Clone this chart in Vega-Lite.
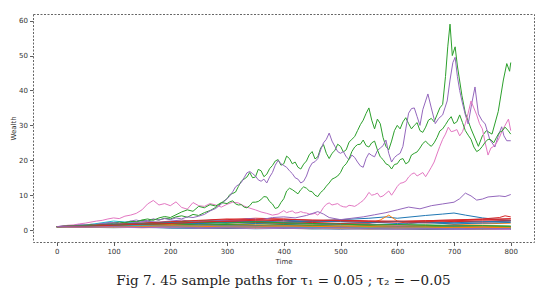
{
"$schema": "https://vega.github.io/schema/vega-lite/v6.json",
"width": 501, "height": 228,
"autosize": "none",
"padding": {"left": 33, "top": 14, "right": 18, "bottom": 56},
"background": "white",
"title": {"text": "Fig 7. 45 sample paths for τ₁ = 0.05 ; τ₂ = −0.05", "orient": "bottom", "anchor": "middle", "font": "DejaVu Serif", "fontSize": 13.5, "fontWeight": "normal", "color": "#222", "offset": 9},
"config": {
 "view": {"stroke": "#666", "strokeDash": [2, 1.5], "strokeWidth": 1},
 "axis": {"domain": false, "grid": false, "labelFont": "DejaVu Sans", "labelFontSize": 7, "labelColor": "#333", "tickColor": "#333", "tickSize": 3.5, "tickWidth": 0.8, "labelPadding": 2, "titleFont": "DejaVu Sans", "titleFontSize": 7, "titleFontWeight": "normal", "titleColor": "#333", "titlePadding": 3}
},
"data": {"values": [
{"p":0,"t":0,"w":1},{"p":0,"t":50,"w":1.3},{"p":0,"t":100,"w":1.8},{"p":0,"t":150,"w":2.0},{"p":0,"t":200,"w":2.2},{"p":0,"t":250,"w":2.4},{"p":0,"t":300,"w":2.0},{"p":0,"t":350,"w":2.5},{"p":0,"t":400,"w":2.8},{"p":0,"t":450,"w":2.6},{"p":0,"t":500,"w":3.0},{"p":0,"t":550,"w":3.4},{"p":0,"t":580,"w":3.8},{"p":0,"t":600,"w":3.4},{"p":0,"t":650,"w":4.2},{"p":0,"t":680,"w":4.6},{"p":0,"t":700,"w":4.9},{"p":0,"t":720,"w":4.3},{"p":0,"t":750,"w":3.5},{"p":0,"t":780,"w":3.0},{"p":0,"t":800,"w":2.8},
{"p":1,"t":0,"w":1},{"p":1,"t":50,"w":1.1},{"p":1,"t":100,"w":1.3},{"p":1,"t":150,"w":1.2},{"p":1,"t":200,"w":1.5},{"p":1,"t":250,"w":1.7},{"p":1,"t":300,"w":1.6},{"p":1,"t":350,"w":1.9},{"p":1,"t":400,"w":1.7},{"p":1,"t":450,"w":1.8},{"p":1,"t":500,"w":1.5},{"p":1,"t":550,"w":1.9},{"p":1,"t":570,"w":2.9},{"p":1,"t":585,"w":4.3},{"p":1,"t":600,"w":2.6},{"p":1,"t":620,"w":1.8},{"p":1,"t":650,"w":2.5},{"p":1,"t":680,"w":1.9},{"p":1,"t":700,"w":1.6},{"p":1,"t":750,"w":1.8},{"p":1,"t":800,"w":2.0},
{"p":2,"t":0,"w":1},{"p":2,"t":10,"w":1.1},{"p":2,"t":20,"w":1.2},{"p":2,"t":30,"w":1.0},{"p":2,"t":40,"w":1.3},{"p":2,"t":50,"w":1.5},{"p":2,"t":60,"w":1.4},{"p":2,"t":70,"w":1.7},{"p":2,"t":80,"w":1.6},{"p":2,"t":90,"w":1.9},{"p":2,"t":100,"w":2.1},{"p":2,"t":110,"w":1.8},{"p":2,"t":120,"w":2.2},{"p":2,"t":130,"w":2.5},{"p":2,"t":140,"w":2.3},{"p":2,"t":150,"w":2.8},{"p":2,"t":160,"w":2.6},{"p":2,"t":170,"w":3.1},{"p":2,"t":180,"w":2.9},{"p":2,"t":190,"w":3.4},{"p":2,"t":200,"w":3.2},{"p":2,"t":210,"w":3.8},{"p":2,"t":220,"w":4.1},{"p":2,"t":230,"w":3.7},{"p":2,"t":240,"w":4.5},{"p":2,"t":250,"w":4.2},{"p":2,"t":260,"w":5.0},{"p":2,"t":270,"w":5.6},{"p":2,"t":280,"w":6.5},{"p":2,"t":290,"w":7.8},{"p":2,"t":300,"w":9.0},{"p":2,"t":305,"w":10.2},{"p":2,"t":310,"w":10.5},{"p":2,"t":315,"w":10.9},{"p":2,"t":320,"w":12.5},{"p":2,"t":325,"w":14.0},{"p":2,"t":330,"w":14.6},{"p":2,"t":335,"w":15.2},{"p":2,"t":340,"w":16.5},{"p":2,"t":345,"w":15.0},{"p":2,"t":350,"w":15.2},{"p":2,"t":355,"w":17.4},{"p":2,"t":360,"w":17.0},{"p":2,"t":365,"w":15.3},{"p":2,"t":370,"w":16.0},{"p":2,"t":375,"w":17.6},{"p":2,"t":380,"w":18.5},{"p":2,"t":385,"w":19.8},{"p":2,"t":390,"w":20.2},{"p":2,"t":395,"w":18.6},{"p":2,"t":400,"w":19.0},{"p":2,"t":405,"w":21.2},{"p":2,"t":410,"w":20.5},{"p":2,"t":415,"w":19.0},{"p":2,"t":420,"w":19.5},{"p":2,"t":425,"w":18.0},{"p":2,"t":430,"w":17.5},{"p":2,"t":435,"w":18.9},{"p":2,"t":440,"w":19.8},{"p":2,"t":445,"w":21.6},{"p":2,"t":450,"w":22.5},{"p":2,"t":455,"w":20.4},{"p":2,"t":460,"w":21.0},{"p":2,"t":465,"w":23.5},{"p":2,"t":470,"w":24.5},{"p":2,"t":475,"w":22.0},{"p":2,"t":480,"w":20.5},{"p":2,"t":485,"w":22.0},{"p":2,"t":490,"w":22.8},{"p":2,"t":495,"w":24.6},{"p":2,"t":500,"w":24.0},{"p":2,"t":505,"w":22.4},{"p":2,"t":510,"w":23.0},{"p":2,"t":515,"w":25.2},{"p":2,"t":520,"w":26.0},{"p":2,"t":525,"w":26.8},{"p":2,"t":530,"w":28.5},{"p":2,"t":535,"w":30.2},{"p":2,"t":540,"w":31.5},{"p":2,"t":545,"w":33.4},{"p":2,"t":550,"w":35.0},{"p":2,"t":555,"w":31.5},{"p":2,"t":560,"w":29.0},{"p":2,"t":565,"w":31.8},{"p":2,"t":570,"w":30.5},{"p":2,"t":575,"w":26.5},{"p":2,"t":580,"w":24.0},{"p":2,"t":585,"w":23.0},{"p":2,"t":590,"w":25.5},{"p":2,"t":595,"w":28.5},{"p":2,"t":600,"w":30.0},{"p":2,"t":605,"w":29.0},{"p":2,"t":610,"w":31.0},{"p":2,"t":615,"w":32.2},{"p":2,"t":620,"w":30.5},{"p":2,"t":625,"w":29.0},{"p":2,"t":630,"w":30.0},{"p":2,"t":635,"w":30.8},{"p":2,"t":640,"w":28.5},{"p":2,"t":645,"w":28.0},{"p":2,"t":650,"w":29.5},{"p":2,"t":655,"w":31.5},{"p":2,"t":660,"w":32.0},{"p":2,"t":665,"w":31.0},{"p":2,"t":670,"w":33.0},{"p":2,"t":675,"w":35.0},{"p":2,"t":680,"w":36.0},{"p":2,"t":685,"w":44.0},{"p":2,"t":689,"w":52.5},{"p":2,"t":693,"w":59.0},{"p":2,"t":697,"w":50.0},{"p":2,"t":702,"w":52.5},{"p":2,"t":706,"w":47.0},{"p":2,"t":714,"w":38.5},{"p":2,"t":720,"w":33.5},{"p":2,"t":730,"w":29.0},{"p":2,"t":743,"w":24.0},{"p":2,"t":750,"w":27.0},{"p":2,"t":757,"w":28.5},{"p":2,"t":767,"w":27.5},{"p":2,"t":778,"w":34.0},{"p":2,"t":787,"w":43.0},{"p":2,"t":793,"w":47.7},{"p":2,"t":798,"w":45.5},{"p":2,"t":800,"w":48.0},
{"p":3,"t":0,"w":1},{"p":3,"t":50,"w":1.2},{"p":3,"t":100,"w":1.6},{"p":3,"t":150,"w":1.9},{"p":3,"t":200,"w":2.3},{"p":3,"t":250,"w":2.6},{"p":3,"t":300,"w":3.0},{"p":3,"t":350,"w":3.4},{"p":3,"t":400,"w":3.2},{"p":3,"t":450,"w":2.8},{"p":3,"t":500,"w":2.9},{"p":3,"t":550,"w":2.6},{"p":3,"t":600,"w":2.5},{"p":3,"t":650,"w":2.7},{"p":3,"t":700,"w":2.9},{"p":3,"t":750,"w":3.2},{"p":3,"t":780,"w":3.6},{"p":3,"t":790,"w":4.1},{"p":3,"t":800,"w":3.8},
{"p":4,"t":0,"w":1},{"p":4,"t":10,"w":1.1},{"p":4,"t":20,"w":1.3},{"p":4,"t":30,"w":1.2},{"p":4,"t":40,"w":1.5},{"p":4,"t":50,"w":1.4},{"p":4,"t":60,"w":1.7},{"p":4,"t":70,"w":1.6},{"p":4,"t":80,"w":1.9},{"p":4,"t":90,"w":2.2},{"p":4,"t":100,"w":2.0},{"p":4,"t":110,"w":2.4},{"p":4,"t":120,"w":2.2},{"p":4,"t":130,"w":2.6},{"p":4,"t":140,"w":2.9},{"p":4,"t":150,"w":2.5},{"p":4,"t":160,"w":2.8},{"p":4,"t":170,"w":3.2},{"p":4,"t":180,"w":2.9},{"p":4,"t":190,"w":3.3},{"p":4,"t":200,"w":3.0},{"p":4,"t":210,"w":3.5},{"p":4,"t":220,"w":3.2},{"p":4,"t":230,"w":3.8},{"p":4,"t":240,"w":3.6},{"p":4,"t":250,"w":4.0},{"p":4,"t":260,"w":4.5},{"p":4,"t":270,"w":5.5},{"p":4,"t":280,"w":6.2},{"p":4,"t":290,"w":7.5},{"p":4,"t":300,"w":9.0},{"p":4,"t":305,"w":9.8},{"p":4,"t":310,"w":11.0},{"p":4,"t":315,"w":12.4},{"p":4,"t":320,"w":13.0},{"p":4,"t":325,"w":13.6},{"p":4,"t":330,"w":15.0},{"p":4,"t":335,"w":16.4},{"p":4,"t":340,"w":16.8},{"p":4,"t":345,"w":16.2},{"p":4,"t":350,"w":15.5},{"p":4,"t":355,"w":14.4},{"p":4,"t":360,"w":14.0},{"p":4,"t":365,"w":14.6},{"p":4,"t":370,"w":13.5},{"p":4,"t":375,"w":15.2},{"p":4,"t":380,"w":16.5},{"p":4,"t":385,"w":18.6},{"p":4,"t":390,"w":20.0},{"p":4,"t":395,"w":19.0},{"p":4,"t":400,"w":18.5},{"p":4,"t":405,"w":18.0},{"p":4,"t":410,"w":17.0},{"p":4,"t":415,"w":16.2},{"p":4,"t":420,"w":15.0},{"p":4,"t":425,"w":14.6},{"p":4,"t":430,"w":13.5},{"p":4,"t":435,"w":14.0},{"p":4,"t":440,"w":15.5},{"p":4,"t":445,"w":17.8},{"p":4,"t":450,"w":19.2},{"p":4,"t":455,"w":19.6},{"p":4,"t":460,"w":20.5},{"p":4,"t":465,"w":23.0},{"p":4,"t":470,"w":25.0},{"p":4,"t":475,"w":26.0},{"p":4,"t":480,"w":27.8},{"p":4,"t":485,"w":25.5},{"p":4,"t":490,"w":24.0},{"p":4,"t":495,"w":22.5},{"p":4,"t":500,"w":22.0},{"p":4,"t":505,"w":22.5},{"p":4,"t":510,"w":21.0},{"p":4,"t":515,"w":20.2},{"p":4,"t":520,"w":21.5},{"p":4,"t":525,"w":20.8},{"p":4,"t":530,"w":19.5},{"p":4,"t":535,"w":18.4},{"p":4,"t":540,"w":18.0},{"p":4,"t":545,"w":20.5},{"p":4,"t":550,"w":22.0},{"p":4,"t":555,"w":21.4},{"p":4,"t":560,"w":21.0},{"p":4,"t":565,"w":22.8},{"p":4,"t":570,"w":23.5},{"p":4,"t":575,"w":24.2},{"p":4,"t":580,"w":25.8},{"p":4,"t":585,"w":22.0},{"p":4,"t":590,"w":19.5},{"p":4,"t":595,"w":20.8},{"p":4,"t":600,"w":21.5},{"p":4,"t":605,"w":22.0},{"p":4,"t":610,"w":24.0},{"p":4,"t":615,"w":29.0},{"p":4,"t":620,"w":33.5},{"p":4,"t":625,"w":34.8},{"p":4,"t":630,"w":35.0},{"p":4,"t":635,"w":32.5},{"p":4,"t":640,"w":30.0},{"p":4,"t":645,"w":34.5},{"p":4,"t":654,"w":39.0},{"p":4,"t":660,"w":35.0},{"p":4,"t":667,"w":30.5},{"p":4,"t":673,"w":32.0},{"p":4,"t":680,"w":33.0},{"p":4,"t":684,"w":35.0},{"p":4,"t":688,"w":37.0},{"p":4,"t":693,"w":43.0},{"p":4,"t":698,"w":48.0},{"p":4,"t":702,"w":49.5},{"p":4,"t":706,"w":44.0},{"p":4,"t":710,"w":40.0},{"p":4,"t":714,"w":37.0},{"p":4,"t":720,"w":33.0},{"p":4,"t":725,"w":30.4},{"p":4,"t":731,"w":36.0},{"p":4,"t":737,"w":41.0},{"p":4,"t":743,"w":33.3},{"p":4,"t":749,"w":31.5},{"p":4,"t":755,"w":30.4},{"p":4,"t":763,"w":26.0},{"p":4,"t":772,"w":23.8},{"p":4,"t":778,"w":27.0},{"p":4,"t":784,"w":29.6},{"p":4,"t":788,"w":27.0},{"p":4,"t":793,"w":25.6},{"p":4,"t":800,"w":25.6},
{"p":5,"t":0,"w":1},{"p":5,"t":50,"w":1.2},{"p":5,"t":100,"w":1.1},{"p":5,"t":150,"w":1.4},{"p":5,"t":200,"w":1.3},{"p":5,"t":250,"w":1.1},{"p":5,"t":300,"w":0.9},{"p":5,"t":350,"w":1.0},{"p":5,"t":400,"w":0.8},{"p":5,"t":450,"w":0.9},{"p":5,"t":500,"w":0.7},{"p":5,"t":550,"w":0.8},{"p":5,"t":600,"w":0.6},{"p":5,"t":650,"w":0.7},{"p":5,"t":700,"w":0.6},{"p":5,"t":750,"w":0.5},{"p":5,"t":800,"w":0.6},
{"p":6,"t":0,"w":1},{"p":6,"t":10,"w":1.2},{"p":6,"t":20,"w":1.4},{"p":6,"t":30,"w":1.5},{"p":6,"t":40,"w":1.8},{"p":6,"t":50,"w":2.0},{"p":6,"t":60,"w":2.3},{"p":6,"t":70,"w":2.6},{"p":6,"t":80,"w":2.8},{"p":6,"t":90,"w":3.2},{"p":6,"t":100,"w":3.5},{"p":6,"t":110,"w":3.3},{"p":6,"t":120,"w":4.0},{"p":6,"t":130,"w":4.3},{"p":6,"t":140,"w":4.8},{"p":6,"t":150,"w":5.8},{"p":6,"t":160,"w":7.5},{"p":6,"t":170,"w":8.5},{"p":6,"t":180,"w":7.2},{"p":6,"t":190,"w":7.6},{"p":6,"t":200,"w":7.0},{"p":6,"t":210,"w":8.1},{"p":6,"t":220,"w":6.5},{"p":6,"t":230,"w":6.0},{"p":6,"t":240,"w":7.9},{"p":6,"t":250,"w":7.0},{"p":6,"t":260,"w":6.8},{"p":6,"t":270,"w":7.6},{"p":6,"t":280,"w":7.2},{"p":6,"t":290,"w":6.6},{"p":6,"t":300,"w":7.4},{"p":6,"t":310,"w":8.0},{"p":6,"t":320,"w":7.8},{"p":6,"t":330,"w":6.9},{"p":6,"t":340,"w":6.3},{"p":6,"t":350,"w":5.8},{"p":6,"t":360,"w":5.2},{"p":6,"t":370,"w":4.8},{"p":6,"t":380,"w":4.3},{"p":6,"t":390,"w":4.6},{"p":6,"t":400,"w":5.6},{"p":6,"t":405,"w":5.0},{"p":6,"t":410,"w":5.3},{"p":6,"t":415,"w":5.5},{"p":6,"t":420,"w":4.9},{"p":6,"t":425,"w":5.0},{"p":6,"t":430,"w":5.3},{"p":6,"t":435,"w":5.0},{"p":6,"t":440,"w":4.9},{"p":6,"t":445,"w":4.6},{"p":6,"t":450,"w":4.6},{"p":6,"t":455,"w":4.8},{"p":6,"t":460,"w":4.3},{"p":6,"t":465,"w":5.2},{"p":6,"t":470,"w":6.5},{"p":6,"t":475,"w":7.4},{"p":6,"t":480,"w":7.8},{"p":6,"t":485,"w":7.2},{"p":6,"t":490,"w":7.4},{"p":6,"t":495,"w":7.6},{"p":6,"t":500,"w":7.0},{"p":6,"t":505,"w":6.7},{"p":6,"t":510,"w":6.6},{"p":6,"t":515,"w":7.1},{"p":6,"t":520,"w":7.0},{"p":6,"t":525,"w":6.8},{"p":6,"t":530,"w":7.3},{"p":6,"t":535,"w":7.9},{"p":6,"t":540,"w":8.5},{"p":6,"t":545,"w":9.5},{"p":6,"t":550,"w":10.8},{"p":6,"t":555,"w":10.0},{"p":6,"t":560,"w":10.2},{"p":6,"t":565,"w":10.6},{"p":6,"t":570,"w":9.5},{"p":6,"t":575,"w":9.8},{"p":6,"t":580,"w":10.5},{"p":6,"t":585,"w":11.2},{"p":6,"t":590,"w":10.0},{"p":6,"t":595,"w":11.2},{"p":6,"t":600,"w":12.5},{"p":6,"t":605,"w":13.4},{"p":6,"t":610,"w":13.6},{"p":6,"t":615,"w":14.0},{"p":6,"t":620,"w":15.2},{"p":6,"t":625,"w":16.0},{"p":6,"t":630,"w":16.4},{"p":6,"t":635,"w":15.5},{"p":6,"t":640,"w":16.0},{"p":6,"t":645,"w":16.5},{"p":6,"t":650,"w":15.3},{"p":6,"t":655,"w":16.6},{"p":6,"t":660,"w":18.0},{"p":6,"t":665,"w":19.5},{"p":6,"t":670,"w":21.8},{"p":6,"t":675,"w":24.0},{"p":6,"t":680,"w":26.0},{"p":6,"t":685,"w":27.5},{"p":6,"t":690,"w":29.5},{"p":6,"t":695,"w":28.2},{"p":6,"t":700,"w":28.4},{"p":6,"t":705,"w":28.8},{"p":6,"t":710,"w":27.0},{"p":6,"t":715,"w":28.2},{"p":6,"t":720,"w":30.5},{"p":6,"t":725,"w":33.5},{"p":6,"t":730,"w":37.0},{"p":6,"t":735,"w":35.0},{"p":6,"t":740,"w":33.0},{"p":6,"t":745,"w":30.5},{"p":6,"t":750,"w":29.0},{"p":6,"t":755,"w":25.0},{"p":6,"t":760,"w":21.5},{"p":6,"t":765,"w":23.5},{"p":6,"t":770,"w":24.0},{"p":6,"t":775,"w":25.0},{"p":6,"t":780,"w":26.5},{"p":6,"t":785,"w":28.5},{"p":6,"t":790,"w":30.0},{"p":6,"t":796,"w":31.8},{"p":6,"t":800,"w":28.5},
{"p":7,"t":0,"w":1},{"p":7,"t":50,"w":0.9},{"p":7,"t":100,"w":1.0},{"p":7,"t":150,"w":0.8},{"p":7,"t":200,"w":0.9},{"p":7,"t":250,"w":0.7},{"p":7,"t":300,"w":0.8},{"p":7,"t":350,"w":0.6},{"p":7,"t":400,"w":0.7},{"p":7,"t":450,"w":0.5},{"p":7,"t":500,"w":0.6},{"p":7,"t":550,"w":0.5},{"p":7,"t":600,"w":0.4},{"p":7,"t":650,"w":0.5},{"p":7,"t":700,"w":0.4},{"p":7,"t":750,"w":0.3},{"p":7,"t":800,"w":0.4},
{"p":8,"t":0,"w":1},{"p":8,"t":50,"w":1.1},{"p":8,"t":100,"w":0.9},{"p":8,"t":150,"w":1.0},{"p":8,"t":200,"w":0.8},{"p":8,"t":250,"w":0.7},{"p":8,"t":300,"w":0.9},{"p":8,"t":350,"w":0.8},{"p":8,"t":400,"w":0.6},{"p":8,"t":450,"w":0.5},{"p":8,"t":500,"w":0.6},{"p":8,"t":550,"w":0.4},{"p":8,"t":600,"w":0.5},{"p":8,"t":650,"w":0.4},{"p":8,"t":700,"w":0.3},{"p":8,"t":750,"w":0.4},{"p":8,"t":800,"w":0.3},
{"p":9,"t":0,"w":1},{"p":9,"t":50,"w":1.4},{"p":9,"t":100,"w":2.6},{"p":9,"t":150,"w":1.9},{"p":9,"t":200,"w":1.6},{"p":9,"t":250,"w":1.8},{"p":9,"t":300,"w":1.5},{"p":9,"t":350,"w":1.3},{"p":9,"t":400,"w":1.4},{"p":9,"t":450,"w":1.2},{"p":9,"t":500,"w":1.0},{"p":9,"t":550,"w":1.1},{"p":9,"t":600,"w":0.9},{"p":9,"t":650,"w":0.8},{"p":9,"t":700,"w":0.9},{"p":9,"t":750,"w":0.7},{"p":9,"t":800,"w":0.8},
{"p":10,"t":0,"w":1},{"p":10,"t":50,"w":1.0},{"p":10,"t":100,"w":1.2},{"p":10,"t":150,"w":1.1},{"p":10,"t":200,"w":1.3},{"p":10,"t":250,"w":1.5},{"p":10,"t":300,"w":1.4},{"p":10,"t":350,"w":1.2},{"p":10,"t":400,"w":1.6},{"p":10,"t":450,"w":1.8},{"p":10,"t":500,"w":1.7},{"p":10,"t":550,"w":1.5},{"p":10,"t":600,"w":1.9},{"p":10,"t":650,"w":2.1},{"p":10,"t":700,"w":1.8},{"p":10,"t":750,"w":2.0},{"p":10,"t":800,"w":2.2},
{"p":11,"t":0,"w":1},{"p":11,"t":50,"w":0.8},{"p":11,"t":100,"w":0.9},{"p":11,"t":150,"w":0.7},{"p":11,"t":200,"w":0.8},{"p":11,"t":250,"w":0.6},{"p":11,"t":300,"w":0.5},{"p":11,"t":350,"w":0.6},{"p":11,"t":400,"w":0.5},{"p":11,"t":450,"w":0.4},{"p":11,"t":500,"w":0.5},{"p":11,"t":550,"w":0.3},{"p":11,"t":600,"w":0.4},{"p":11,"t":650,"w":0.3},{"p":11,"t":700,"w":0.3},{"p":11,"t":750,"w":0.2},{"p":11,"t":800,"w":0.3},
{"p":12,"t":0,"w":1},{"p":12,"t":10,"w":0.9},{"p":12,"t":20,"w":1.1},{"p":12,"t":30,"w":1.3},{"p":12,"t":40,"w":1.2},{"p":12,"t":50,"w":1.4},{"p":12,"t":60,"w":1.6},{"p":12,"t":70,"w":1.5},{"p":12,"t":80,"w":1.8},{"p":12,"t":90,"w":1.7},{"p":12,"t":100,"w":2.0},{"p":12,"t":110,"w":2.3},{"p":12,"t":120,"w":2.1},{"p":12,"t":130,"w":2.5},{"p":12,"t":140,"w":2.4},{"p":12,"t":150,"w":2.9},{"p":12,"t":160,"w":3.2},{"p":12,"t":170,"w":2.8},{"p":12,"t":180,"w":3.5},{"p":12,"t":190,"w":3.9},{"p":12,"t":200,"w":3.6},{"p":12,"t":210,"w":4.4},{"p":12,"t":220,"w":5.2},{"p":12,"t":230,"w":5.8},{"p":12,"t":240,"w":5.4},{"p":12,"t":250,"w":6.8},{"p":12,"t":260,"w":6.4},{"p":12,"t":270,"w":7.3},{"p":12,"t":280,"w":6.9},{"p":12,"t":290,"w":7.9},{"p":12,"t":300,"w":7.6},{"p":12,"t":305,"w":8.1},{"p":12,"t":310,"w":8.4},{"p":12,"t":315,"w":7.5},{"p":12,"t":320,"w":7.2},{"p":12,"t":325,"w":7.3},{"p":12,"t":330,"w":6.6},{"p":12,"t":335,"w":6.4},{"p":12,"t":340,"w":7.0},{"p":12,"t":345,"w":8.0},{"p":12,"t":350,"w":8.0},{"p":12,"t":355,"w":8.2},{"p":12,"t":360,"w":8.8},{"p":12,"t":365,"w":9.6},{"p":12,"t":370,"w":9.5},{"p":12,"t":375,"w":8.2},{"p":12,"t":380,"w":7.5},{"p":12,"t":385,"w":6.2},{"p":12,"t":390,"w":6.5},{"p":12,"t":395,"w":7.9},{"p":12,"t":400,"w":9.0},{"p":12,"t":405,"w":11.2},{"p":12,"t":410,"w":12.0},{"p":12,"t":415,"w":11.6},{"p":12,"t":420,"w":11.0},{"p":12,"t":425,"w":10.4},{"p":12,"t":430,"w":11.6},{"p":12,"t":435,"w":12.4},{"p":12,"t":440,"w":12.0},{"p":12,"t":445,"w":11.2},{"p":12,"t":450,"w":11.0},{"p":12,"t":455,"w":10.0},{"p":12,"t":460,"w":9.6},{"p":12,"t":465,"w":10.8},{"p":12,"t":470,"w":11.5},{"p":12,"t":475,"w":12.6},{"p":12,"t":480,"w":13.5},{"p":12,"t":485,"w":14.6},{"p":12,"t":490,"w":15.0},{"p":12,"t":495,"w":15.5},{"p":12,"t":500,"w":16.5},{"p":12,"t":505,"w":18.2},{"p":12,"t":510,"w":19.0},{"p":12,"t":515,"w":20.4},{"p":12,"t":520,"w":22.5},{"p":12,"t":525,"w":23.8},{"p":12,"t":530,"w":24.5},{"p":12,"t":535,"w":24.6},{"p":12,"t":540,"w":25.8},{"p":12,"t":545,"w":24.2},{"p":12,"t":550,"w":23.8},{"p":12,"t":555,"w":25.0},{"p":12,"t":560,"w":25.5},{"p":12,"t":565,"w":23.0},{"p":12,"t":570,"w":21.0},{"p":12,"t":575,"w":20.2},{"p":12,"t":580,"w":19.0},{"p":12,"t":585,"w":18.6},{"p":12,"t":590,"w":17.5},{"p":12,"t":595,"w":18.8},{"p":12,"t":600,"w":19.0},{"p":12,"t":605,"w":20.2},{"p":12,"t":610,"w":20.5},{"p":12,"t":615,"w":19.0},{"p":12,"t":620,"w":19.5},{"p":12,"t":625,"w":21.5},{"p":12,"t":630,"w":22.0},{"p":12,"t":635,"w":22.4},{"p":12,"t":640,"w":23.5},{"p":12,"t":645,"w":24.8},{"p":12,"t":650,"w":25.5},{"p":12,"t":655,"w":24.6},{"p":12,"t":660,"w":24.0},{"p":12,"t":665,"w":25.0},{"p":12,"t":670,"w":26.5},{"p":12,"t":675,"w":28.4},{"p":12,"t":680,"w":29.0},{"p":12,"t":685,"w":30.2},{"p":12,"t":690,"w":31.5},{"p":12,"t":695,"w":32.5},{"p":12,"t":700,"w":30.5},{"p":12,"t":705,"w":31.0},{"p":12,"t":710,"w":33.0},{"p":12,"t":715,"w":30.8},{"p":12,"t":720,"w":28.5},{"p":12,"t":725,"w":27.2},{"p":12,"t":730,"w":26.0},{"p":12,"t":735,"w":23.8},{"p":12,"t":740,"w":22.5},{"p":12,"t":745,"w":23.0},{"p":12,"t":750,"w":24.0},{"p":12,"t":755,"w":25.2},{"p":12,"t":760,"w":26.0},{"p":12,"t":765,"w":25.9},{"p":12,"t":770,"w":25.0},{"p":12,"t":775,"w":26.6},{"p":12,"t":780,"w":28.0},{"p":12,"t":785,"w":28.4},{"p":12,"t":790,"w":29.5},{"p":12,"t":795,"w":28.6},{"p":12,"t":800,"w":27.5},
{"p":13,"t":0,"w":1},{"p":13,"t":50,"w":1.2},{"p":13,"t":100,"w":1.5},{"p":13,"t":150,"w":1.8},{"p":13,"t":200,"w":2.0},{"p":13,"t":250,"w":2.3},{"p":13,"t":300,"w":2.6},{"p":13,"t":350,"w":2.4},{"p":13,"t":400,"w":2.2},{"p":13,"t":450,"w":2.5},{"p":13,"t":500,"w":2.8},{"p":13,"t":550,"w":2.6},{"p":13,"t":600,"w":2.4},{"p":13,"t":650,"w":2.7},{"p":13,"t":700,"w":2.9},{"p":13,"t":750,"w":3.1},{"p":13,"t":800,"w":3.2},
{"p":14,"t":0,"w":1},{"p":14,"t":20,"w":1.2},{"p":14,"t":40,"w":1.5},{"p":14,"t":60,"w":1.4},{"p":14,"t":80,"w":1.9},{"p":14,"t":100,"w":2.1},{"p":14,"t":120,"w":1.8},{"p":14,"t":140,"w":2.2},{"p":14,"t":160,"w":2.5},{"p":14,"t":180,"w":2.3},{"p":14,"t":200,"w":2.6},{"p":14,"t":220,"w":2.9},{"p":14,"t":240,"w":2.4},{"p":14,"t":260,"w":2.7},{"p":14,"t":280,"w":3.0},{"p":14,"t":300,"w":2.6},{"p":14,"t":320,"w":2.9},{"p":14,"t":340,"w":3.3},{"p":14,"t":360,"w":3.0},{"p":14,"t":380,"w":3.6},{"p":14,"t":400,"w":3.8},{"p":14,"t":420,"w":3.5},{"p":14,"t":440,"w":4.2},{"p":14,"t":460,"w":5.3},{"p":14,"t":470,"w":4.6},{"p":14,"t":480,"w":3.6},{"p":14,"t":500,"w":3.0},{"p":14,"t":520,"w":3.4},{"p":14,"t":540,"w":3.8},{"p":14,"t":560,"w":4.4},{"p":14,"t":580,"w":5.0},{"p":14,"t":600,"w":5.8},{"p":14,"t":620,"w":6.6},{"p":14,"t":640,"w":6.1},{"p":14,"t":660,"w":7.0},{"p":14,"t":680,"w":7.5},{"p":14,"t":700,"w":8.0},{"p":14,"t":710,"w":9.0},{"p":14,"t":720,"w":10.6},{"p":14,"t":730,"w":9.8},{"p":14,"t":740,"w":8.6},{"p":14,"t":750,"w":8.9},{"p":14,"t":760,"w":9.5},{"p":14,"t":780,"w":9.8},{"p":14,"t":790,"w":9.6},{"p":14,"t":800,"w":10.2},
{"p":15,"t":0,"w":1},{"p":15,"t":50,"w":1.1},{"p":15,"t":100,"w":1.3},{"p":15,"t":150,"w":1.2},{"p":15,"t":200,"w":1.5},{"p":15,"t":250,"w":1.4},{"p":15,"t":300,"w":1.2},{"p":15,"t":350,"w":1.3},{"p":15,"t":400,"w":1.1},{"p":15,"t":450,"w":1.2},{"p":15,"t":500,"w":1.0},{"p":15,"t":550,"w":0.9},{"p":15,"t":600,"w":1.0},{"p":15,"t":650,"w":0.8},{"p":15,"t":700,"w":0.9},{"p":15,"t":750,"w":0.7},{"p":15,"t":800,"w":0.8},
{"p":16,"t":0,"w":1},{"p":16,"t":50,"w":0.9},{"p":16,"t":100,"w":0.8},{"p":16,"t":150,"w":0.9},{"p":16,"t":200,"w":0.7},{"p":16,"t":250,"w":0.8},{"p":16,"t":300,"w":0.6},{"p":16,"t":350,"w":0.7},{"p":16,"t":400,"w":0.5},{"p":16,"t":450,"w":0.6},{"p":16,"t":500,"w":0.5},{"p":16,"t":550,"w":0.6},{"p":16,"t":600,"w":0.4},{"p":16,"t":650,"w":0.5},{"p":16,"t":700,"w":0.4},{"p":16,"t":750,"w":0.4},{"p":16,"t":800,"w":0.3},
{"p":17,"t":0,"w":1},{"p":17,"t":50,"w":1.2},{"p":17,"t":100,"w":1.0},{"p":17,"t":150,"w":1.1},{"p":17,"t":200,"w":0.9},{"p":17,"t":250,"w":1.0},{"p":17,"t":300,"w":1.2},{"p":17,"t":350,"w":1.1},{"p":17,"t":400,"w":0.9},{"p":17,"t":450,"w":0.8},{"p":17,"t":500,"w":0.9},{"p":17,"t":550,"w":0.7},{"p":17,"t":600,"w":0.8},{"p":17,"t":650,"w":0.6},{"p":17,"t":700,"w":0.7},{"p":17,"t":750,"w":0.6},{"p":17,"t":800,"w":0.5},
{"p":18,"t":0,"w":1},{"p":18,"t":50,"w":0.9},{"p":18,"t":100,"w":1.1},{"p":18,"t":150,"w":1.3},{"p":18,"t":200,"w":1.2},{"p":18,"t":250,"w":1.0},{"p":18,"t":300,"w":1.1},{"p":18,"t":350,"w":0.9},{"p":18,"t":400,"w":1.0},{"p":18,"t":450,"w":0.8},{"p":18,"t":500,"w":0.7},{"p":18,"t":550,"w":0.8},{"p":18,"t":600,"w":0.7},{"p":18,"t":650,"w":0.6},{"p":18,"t":700,"w":0.7},{"p":18,"t":750,"w":0.5},{"p":18,"t":800,"w":0.6},
{"p":19,"t":0,"w":1},{"p":19,"t":50,"w":1.0},{"p":19,"t":100,"w":0.8},{"p":19,"t":150,"w":0.9},{"p":19,"t":200,"w":0.7},{"p":19,"t":250,"w":0.6},{"p":19,"t":300,"w":0.7},{"p":19,"t":350,"w":0.5},{"p":19,"t":400,"w":0.6},{"p":19,"t":450,"w":0.4},{"p":19,"t":500,"w":0.5},{"p":19,"t":550,"w":0.4},{"p":19,"t":600,"w":0.3},{"p":19,"t":650,"w":0.4},{"p":19,"t":700,"w":0.3},{"p":19,"t":750,"w":0.2},{"p":19,"t":800,"w":0.2},
{"p":20,"t":0,"w":1},{"p":20,"t":50,"w":1.1},{"p":20,"t":100,"w":1.4},{"p":20,"t":150,"w":1.6},{"p":20,"t":200,"w":1.5},{"p":20,"t":250,"w":1.8},{"p":20,"t":300,"w":1.6},{"p":20,"t":350,"w":1.9},{"p":20,"t":400,"w":2.1},{"p":20,"t":450,"w":1.8},{"p":20,"t":500,"w":1.6},{"p":20,"t":550,"w":1.7},{"p":20,"t":600,"w":1.5},{"p":20,"t":650,"w":1.3},{"p":20,"t":700,"w":1.4},{"p":20,"t":750,"w":1.2},{"p":20,"t":800,"w":1.1},
{"p":21,"t":0,"w":1},{"p":21,"t":50,"w":1.2},{"p":21,"t":100,"w":1.1},{"p":21,"t":150,"w":0.9},{"p":21,"t":200,"w":1.0},{"p":21,"t":250,"w":1.2},{"p":21,"t":300,"w":1.0},{"p":21,"t":350,"w":0.9},{"p":21,"t":400,"w":0.8},{"p":21,"t":450,"w":0.7},{"p":21,"t":500,"w":0.9},{"p":21,"t":550,"w":0.8},{"p":21,"t":600,"w":0.6},{"p":21,"t":650,"w":0.7},{"p":21,"t":700,"w":0.5},{"p":21,"t":750,"w":0.6},{"p":21,"t":800,"w":0.5},
{"p":22,"t":0,"w":1},{"p":22,"t":50,"w":1.3},{"p":22,"t":100,"w":1.6},{"p":22,"t":150,"w":1.9},{"p":22,"t":200,"w":2.3},{"p":22,"t":250,"w":2.7},{"p":22,"t":300,"w":2.5},{"p":22,"t":350,"w":2.2},{"p":22,"t":400,"w":2.0},{"p":22,"t":450,"w":1.8},{"p":22,"t":500,"w":1.9},{"p":22,"t":550,"w":1.6},{"p":22,"t":600,"w":1.4},{"p":22,"t":650,"w":1.5},{"p":22,"t":700,"w":1.3},{"p":22,"t":750,"w":1.2},{"p":22,"t":800,"w":1.1},
{"p":23,"t":0,"w":1},{"p":23,"t":50,"w":1.1},{"p":23,"t":100,"w":1.3},{"p":23,"t":150,"w":1.6},{"p":23,"t":200,"w":1.8},{"p":23,"t":250,"w":2.1},{"p":23,"t":300,"w":2.5},{"p":23,"t":350,"w":2.3},{"p":23,"t":400,"w":2.0},{"p":23,"t":450,"w":2.2},{"p":23,"t":500,"w":1.9},{"p":23,"t":550,"w":2.1},{"p":23,"t":600,"w":2.4},{"p":23,"t":650,"w":2.2},{"p":23,"t":700,"w":2.5},{"p":23,"t":750,"w":2.3},{"p":23,"t":800,"w":2.6},
{"p":24,"t":0,"w":1},{"p":24,"t":50,"w":1.2},{"p":24,"t":100,"w":1.5},{"p":24,"t":150,"w":1.7},{"p":24,"t":200,"w":2.0},{"p":24,"t":250,"w":2.4},{"p":24,"t":300,"w":2.8},{"p":24,"t":350,"w":2.6},{"p":24,"t":400,"w":2.2},{"p":24,"t":450,"w":1.9},{"p":24,"t":500,"w":1.6},{"p":24,"t":550,"w":1.7},{"p":24,"t":600,"w":1.4},{"p":24,"t":650,"w":1.2},{"p":24,"t":700,"w":1.3},{"p":24,"t":750,"w":1.1},{"p":24,"t":800,"w":1.0},
{"p":25,"t":0,"w":1},{"p":25,"t":50,"w":0.9},{"p":25,"t":100,"w":1.0},{"p":25,"t":150,"w":0.8},{"p":25,"t":200,"w":0.7},{"p":25,"t":250,"w":0.8},{"p":25,"t":300,"w":0.6},{"p":25,"t":350,"w":0.7},{"p":25,"t":400,"w":0.6},{"p":25,"t":450,"w":0.5},{"p":25,"t":500,"w":0.4},{"p":25,"t":550,"w":0.5},{"p":25,"t":600,"w":0.4},{"p":25,"t":650,"w":0.3},{"p":25,"t":700,"w":0.4},{"p":25,"t":750,"w":0.3},{"p":25,"t":800,"w":0.3},
{"p":26,"t":0,"w":1},{"p":26,"t":50,"w":1.1},{"p":26,"t":100,"w":1.0},{"p":26,"t":150,"w":1.2},{"p":26,"t":200,"w":1.1},{"p":26,"t":250,"w":1.3},{"p":26,"t":300,"w":1.5},{"p":26,"t":350,"w":1.4},{"p":26,"t":400,"w":1.2},{"p":26,"t":450,"w":1.3},{"p":26,"t":500,"w":1.1},{"p":26,"t":550,"w":1.0},{"p":26,"t":600,"w":1.2},{"p":26,"t":650,"w":1.1},{"p":26,"t":700,"w":0.9},{"p":26,"t":750,"w":1.0},{"p":26,"t":800,"w":0.9},
{"p":27,"t":0,"w":1},{"p":27,"t":50,"w":0.9},{"p":27,"t":100,"w":1.0},{"p":27,"t":150,"w":0.9},{"p":27,"t":200,"w":0.8},{"p":27,"t":250,"w":0.9},{"p":27,"t":300,"w":0.7},{"p":27,"t":350,"w":0.8},{"p":27,"t":400,"w":0.7},{"p":27,"t":450,"w":0.6},{"p":27,"t":500,"w":0.7},{"p":27,"t":550,"w":0.5},{"p":27,"t":600,"w":0.6},{"p":27,"t":650,"w":0.5},{"p":27,"t":700,"w":0.5},{"p":27,"t":750,"w":0.4},{"p":27,"t":800,"w":0.4},
{"p":28,"t":0,"w":1},{"p":28,"t":50,"w":1.1},{"p":28,"t":100,"w":1.2},{"p":28,"t":150,"w":1.0},{"p":28,"t":200,"w":1.1},{"p":28,"t":250,"w":0.9},{"p":28,"t":300,"w":1.0},{"p":28,"t":350,"w":0.8},{"p":28,"t":400,"w":0.9},{"p":28,"t":450,"w":0.8},{"p":28,"t":500,"w":0.6},{"p":28,"t":550,"w":0.7},{"p":28,"t":600,"w":0.6},{"p":28,"t":650,"w":0.5},{"p":28,"t":700,"w":0.6},{"p":28,"t":750,"w":0.5},{"p":28,"t":800,"w":0.4},
{"p":29,"t":0,"w":1},{"p":29,"t":50,"w":1.2},{"p":29,"t":100,"w":1.1},{"p":29,"t":150,"w":1.3},{"p":29,"t":200,"w":1.1},{"p":29,"t":250,"w":1.0},{"p":29,"t":300,"w":0.9},{"p":29,"t":350,"w":1.0},{"p":29,"t":400,"w":0.8},{"p":29,"t":450,"w":0.9},{"p":29,"t":500,"w":0.7},{"p":29,"t":550,"w":0.8},{"p":29,"t":600,"w":0.6},{"p":29,"t":650,"w":0.7},{"p":29,"t":700,"w":0.6},{"p":29,"t":750,"w":0.5},{"p":29,"t":800,"w":0.5},
{"p":30,"t":0,"w":1},{"p":30,"t":50,"w":0.8},{"p":30,"t":100,"w":0.7},{"p":30,"t":150,"w":0.8},{"p":30,"t":200,"w":0.6},{"p":30,"t":250,"w":0.5},{"p":30,"t":300,"w":0.6},{"p":30,"t":350,"w":0.4},{"p":30,"t":400,"w":0.5},{"p":30,"t":450,"w":0.4},{"p":30,"t":500,"w":0.3},{"p":30,"t":550,"w":0.4},{"p":30,"t":600,"w":0.3},{"p":30,"t":650,"w":0.3},{"p":30,"t":700,"w":0.2},{"p":30,"t":750,"w":0.2},{"p":30,"t":800,"w":0.2},
{"p":31,"t":0,"w":1},{"p":31,"t":50,"w":1.2},{"p":31,"t":100,"w":1.4},{"p":31,"t":150,"w":1.3},{"p":31,"t":200,"w":1.6},{"p":31,"t":250,"w":1.4},{"p":31,"t":300,"w":1.7},{"p":31,"t":350,"w":1.5},{"p":31,"t":400,"w":1.3},{"p":31,"t":450,"w":1.4},{"p":31,"t":500,"w":1.2},{"p":31,"t":550,"w":1.3},{"p":31,"t":600,"w":1.1},{"p":31,"t":650,"w":1.2},{"p":31,"t":700,"w":1.0},{"p":31,"t":750,"w":1.1},{"p":31,"t":800,"w":1.0},
{"p":32,"t":0,"w":1},{"p":32,"t":50,"w":1.1},{"p":32,"t":100,"w":1.3},{"p":32,"t":150,"w":1.5},{"p":32,"t":200,"w":1.4},{"p":32,"t":250,"w":1.7},{"p":32,"t":300,"w":1.6},{"p":32,"t":350,"w":1.4},{"p":32,"t":400,"w":1.5},{"p":32,"t":450,"w":1.3},{"p":32,"t":500,"w":1.1},{"p":32,"t":550,"w":1.2},{"p":32,"t":600,"w":1.0},{"p":32,"t":650,"w":1.1},{"p":32,"t":700,"w":0.9},{"p":32,"t":750,"w":0.8},{"p":32,"t":800,"w":0.9},
{"p":33,"t":0,"w":1},{"p":33,"t":50,"w":1.3},{"p":33,"t":100,"w":1.6},{"p":33,"t":150,"w":2.0},{"p":33,"t":200,"w":2.4},{"p":33,"t":250,"w":2.8},{"p":33,"t":300,"w":3.2},{"p":33,"t":350,"w":3.0},{"p":33,"t":400,"w":2.6},{"p":33,"t":450,"w":2.3},{"p":33,"t":500,"w":2.5},{"p":33,"t":550,"w":2.2},{"p":33,"t":600,"w":2.4},{"p":33,"t":650,"w":2.1},{"p":33,"t":700,"w":2.3},{"p":33,"t":750,"w":2.6},{"p":33,"t":800,"w":2.8},
{"p":34,"t":0,"w":1},{"p":34,"t":50,"w":1.0},{"p":34,"t":100,"w":1.2},{"p":34,"t":150,"w":1.1},{"p":34,"t":200,"w":1.3},{"p":34,"t":250,"w":1.2},{"p":34,"t":300,"w":1.0},{"p":34,"t":350,"w":1.1},{"p":34,"t":400,"w":0.9},{"p":34,"t":450,"w":1.0},{"p":34,"t":500,"w":0.8},{"p":34,"t":550,"w":0.7},{"p":34,"t":600,"w":0.8},{"p":34,"t":650,"w":0.7},{"p":34,"t":700,"w":0.6},{"p":34,"t":750,"w":0.7},{"p":34,"t":800,"w":0.6},
{"p":35,"t":0,"w":1},{"p":35,"t":50,"w":1.1},{"p":35,"t":100,"w":0.9},{"p":35,"t":150,"w":1.0},{"p":35,"t":200,"w":1.1},{"p":35,"t":250,"w":0.9},{"p":35,"t":300,"w":0.8},{"p":35,"t":350,"w":0.9},{"p":35,"t":400,"w":0.7},{"p":35,"t":450,"w":0.8},{"p":35,"t":500,"w":0.6},{"p":35,"t":550,"w":0.7},{"p":35,"t":600,"w":0.6},{"p":35,"t":650,"w":0.5},{"p":35,"t":700,"w":0.5},{"p":35,"t":750,"w":0.4},{"p":35,"t":800,"w":0.5},
{"p":36,"t":0,"w":1},{"p":36,"t":50,"w":0.9},{"p":36,"t":100,"w":0.8},{"p":36,"t":150,"w":0.7},{"p":36,"t":200,"w":0.8},{"p":36,"t":250,"w":0.6},{"p":36,"t":300,"w":0.7},{"p":36,"t":350,"w":0.5},{"p":36,"t":400,"w":0.6},{"p":36,"t":450,"w":0.5},{"p":36,"t":500,"w":0.4},{"p":36,"t":550,"w":0.4},{"p":36,"t":600,"w":0.3},{"p":36,"t":650,"w":0.4},{"p":36,"t":700,"w":0.3},{"p":36,"t":750,"w":0.3},{"p":36,"t":800,"w":0.2},
{"p":37,"t":0,"w":1},{"p":37,"t":50,"w":1.2},{"p":37,"t":100,"w":1.1},{"p":37,"t":150,"w":1.3},{"p":37,"t":200,"w":1.2},{"p":37,"t":250,"w":1.4},{"p":37,"t":300,"w":1.3},{"p":37,"t":350,"w":1.1},{"p":37,"t":400,"w":1.2},{"p":37,"t":450,"w":1.0},{"p":37,"t":500,"w":1.1},{"p":37,"t":550,"w":0.9},{"p":37,"t":600,"w":1.0},{"p":37,"t":650,"w":0.8},{"p":37,"t":700,"w":0.9},{"p":37,"t":750,"w":0.8},{"p":37,"t":800,"w":0.7},
{"p":38,"t":0,"w":1},{"p":38,"t":50,"w":1.0},{"p":38,"t":100,"w":0.9},{"p":38,"t":150,"w":1.1},{"p":38,"t":200,"w":1.0},{"p":38,"t":250,"w":0.8},{"p":38,"t":300,"w":0.9},{"p":38,"t":350,"w":0.7},{"p":38,"t":400,"w":0.8},{"p":38,"t":450,"w":0.7},{"p":38,"t":500,"w":0.6},{"p":38,"t":550,"w":0.7},{"p":38,"t":600,"w":0.5},{"p":38,"t":650,"w":0.6},{"p":38,"t":700,"w":0.5},{"p":38,"t":750,"w":0.4},{"p":38,"t":800,"w":0.5},
{"p":39,"t":0,"w":1},{"p":39,"t":50,"w":1.1},{"p":39,"t":100,"w":1.3},{"p":39,"t":150,"w":1.2},{"p":39,"t":200,"w":1.0},{"p":39,"t":250,"w":1.1},{"p":39,"t":300,"w":0.9},{"p":39,"t":350,"w":1.0},{"p":39,"t":400,"w":0.8},{"p":39,"t":450,"w":0.7},{"p":39,"t":500,"w":0.8},{"p":39,"t":550,"w":0.6},{"p":39,"t":600,"w":0.7},{"p":39,"t":650,"w":0.6},{"p":39,"t":700,"w":0.5},{"p":39,"t":750,"w":0.6},{"p":39,"t":800,"w":0.5},
{"p":40,"t":0,"w":1},{"p":40,"t":50,"w":1.2},{"p":40,"t":100,"w":1.5},{"p":40,"t":150,"w":1.8},{"p":40,"t":200,"w":2.1},{"p":40,"t":250,"w":1.9},{"p":40,"t":300,"w":2.2},{"p":40,"t":350,"w":2.5},{"p":40,"t":400,"w":2.3},{"p":40,"t":450,"w":2.6},{"p":40,"t":500,"w":2.4},{"p":40,"t":550,"w":2.2},{"p":40,"t":600,"w":2.5},{"p":40,"t":650,"w":2.3},{"p":40,"t":700,"w":2.1},{"p":40,"t":750,"w":2.4},{"p":40,"t":800,"w":2.6},
{"p":41,"t":0,"w":1},{"p":41,"t":50,"w":0.9},{"p":41,"t":100,"w":1.1},{"p":41,"t":150,"w":1.0},{"p":41,"t":200,"w":1.2},{"p":41,"t":250,"w":1.1},{"p":41,"t":300,"w":0.9},{"p":41,"t":350,"w":1.0},{"p":41,"t":400,"w":1.2},{"p":41,"t":450,"w":1.1},{"p":41,"t":500,"w":0.9},{"p":41,"t":550,"w":1.0},{"p":41,"t":600,"w":0.8},{"p":41,"t":650,"w":0.9},{"p":41,"t":700,"w":0.7},{"p":41,"t":750,"w":0.8},{"p":41,"t":800,"w":0.7},
{"p":42,"t":0,"w":1},{"p":42,"t":50,"w":1.2},{"p":42,"t":100,"w":1.4},{"p":42,"t":150,"w":1.7},{"p":42,"t":200,"w":1.9},{"p":42,"t":250,"w":2.2},{"p":42,"t":300,"w":2.0},{"p":42,"t":350,"w":2.4},{"p":42,"t":400,"w":2.1},{"p":42,"t":450,"w":1.9},{"p":42,"t":500,"w":1.7},{"p":42,"t":550,"w":1.5},{"p":42,"t":600,"w":1.6},{"p":42,"t":650,"w":1.4},{"p":42,"t":700,"w":1.2},{"p":42,"t":750,"w":1.3},{"p":42,"t":800,"w":1.1},
{"p":43,"t":0,"w":1},{"p":43,"t":50,"w":1.1},{"p":43,"t":100,"w":1.4},{"p":43,"t":150,"w":1.7},{"p":43,"t":200,"w":1.9},{"p":43,"t":250,"w":2.3},{"p":43,"t":300,"w":2.6},{"p":43,"t":350,"w":2.8},{"p":43,"t":400,"w":3.1},{"p":43,"t":450,"w":2.9},{"p":43,"t":500,"w":2.7},{"p":43,"t":550,"w":2.5},{"p":43,"t":600,"w":2.6},{"p":43,"t":650,"w":2.4},{"p":43,"t":700,"w":2.7},{"p":43,"t":750,"w":2.9},{"p":43,"t":800,"w":3.3},
{"p":44,"t":0,"w":1},{"p":44,"t":50,"w":0.9},{"p":44,"t":100,"w":1.0},{"p":44,"t":150,"w":0.8},{"p":44,"t":200,"w":0.9},{"p":44,"t":250,"w":0.7},{"p":44,"t":300,"w":0.8},{"p":44,"t":350,"w":0.9},{"p":44,"t":400,"w":0.7},{"p":44,"t":450,"w":0.6},{"p":44,"t":500,"w":0.7},{"p":44,"t":550,"w":0.5},{"p":44,"t":600,"w":0.6},{"p":44,"t":650,"w":0.5},{"p":44,"t":700,"w":0.4},{"p":44,"t":750,"w":0.5},{"p":44,"t":800,"w":0.4}
]},
"mark": {"type": "line", "strokeWidth": 1},
"encoding": {
 "x": {"field": "t", "type": "quantitative", "scale": {"domain": [-42, 841], "nice": false, "zero": false}, "axis": {"values": [0,100,200,300,400,500,600,700,800], "title": "Time"}},
 "y": {"field": "w", "type": "quantitative", "scale": {"domain": [-3.4, 61.9], "nice": false, "zero": false}, "axis": {"values": [0,10,20,30,40,50,60], "title": "Wealth", "titlePadding": 2}},
 "color": {"field": "p", "type": "nominal", "scale": {"domain": [0,1,2,3,4,5,6,7,8,9,10,11,12,13,14,15,16,17,18,19,20,21,22,23,24,25,26,27,28,29,30,31,32,33,34,35,36,37,38,39,40,41,42,43,44], "range": ["#1f77b4","#ff7f0e","#2ca02c","#d62728","#9467bd","#8c564b","#e377c2","#7f7f7f","#bcbd22","#17becf","#1f77b4","#ff7f0e","#2ca02c","#d62728","#9467bd","#8c564b","#e377c2","#7f7f7f","#bcbd22","#17becf","#1f77b4","#ff7f0e","#2ca02c","#d62728","#9467bd","#8c564b","#e377c2","#7f7f7f","#bcbd22","#17becf","#1f77b4","#ff7f0e","#2ca02c","#d62728","#9467bd","#8c564b","#e377c2","#7f7f7f","#bcbd22","#17becf","#1f77b4","#ff7f0e","#2ca02c","#d62728","#9467bd"]}, "legend": null},
 "order": {"field": "t"}
}
}
